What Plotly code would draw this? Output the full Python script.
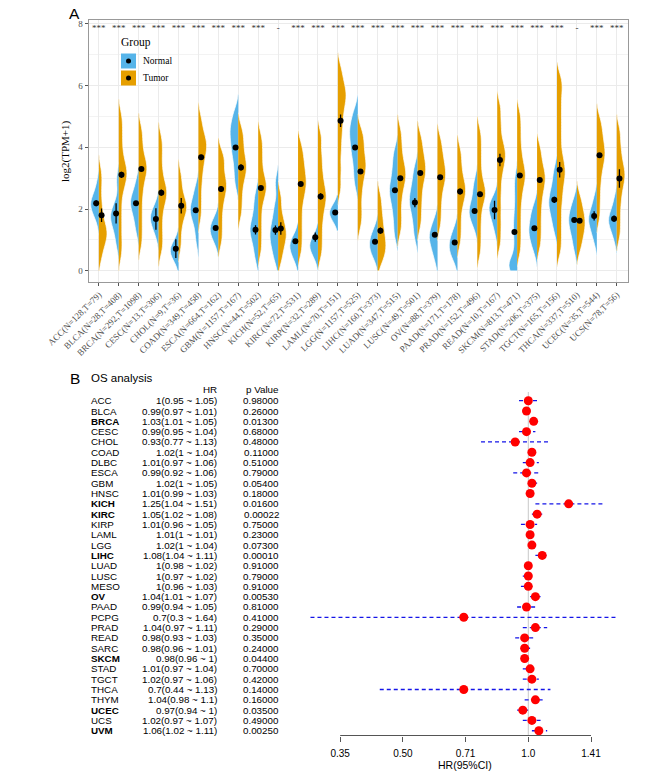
import plotly.graph_objects as go

W, H = 669, 773

# ---------------- Panel A data ----------------
cancers_A = ["ACC", "BLCA", "BRCA", "CESC", "CHOL", "COAD", "ESCA", "GBM", "HNSC",
             "KICH", "KIRC", "KIRP", "LAML", "LGG", "LIHC", "LUAD", "LUSC", "OV",
             "PAAD", "PRAD", "READ", "SKCM", "STAD", "TGCT", "THCA", "UCEC", "UCS"]
n_normal = [128, 28, 292, 13, 9, 349, 664, 1157, 44, 52, 72, 32, 70, 1157, 160, 347,
            49, 88, 171, 152, 10, 813, 206, 165, 337, 35, 78]
n_tumor = [79, 408, 1098, 306, 36, 458, 162, 167, 502, 65, 531, 289, 151, 525, 373,
           515, 501, 379, 178, 496, 167, 471, 375, 156, 510, 544, 56]
signif = ["***"] * 9 + ["-"] + ["***"] * 14 + ["-"] + ["***"] * 2

normal_vals = [
    [1.7, 1.95, 2.05, 2.15, 2.2, 2.3, 2.45, 2.8],                    # ACC
    [0.9, 1.3, 1.55, 1.7, 1.8, 1.95, 2.2, 2.95],                     # BLCA
    [1.35, 1.75, 2.0, 2.2, 2.3, 2.45, 2.85],                         # BRCA
    [1.2, 1.5, 1.65, 1.75, 1.85, 2.1],                               # CESC
    [0.45, 0.6, 0.7, 0.85],                                          # CHOL
    [1.0, 1.45, 1.75, 1.9, 2.0, 2.15, 2.4, 2.7],                     # COAD
    [1.0, 1.2, 1.35, 1.45, 1.65],                                    # ESCA
    [2.85, 3.3, 3.7, 3.95, 4.2, 4.45, 4.6, 4.85, 5.15],              # GBM
    [0.45, 0.85, 1.15, 1.3, 1.45, 1.7, 2.05, 2.45],                  # HNSC
    [0.4, 0.75, 1.0, 1.2, 1.4, 1.7, 2.1, 2.85],                      # KICH
    [0.45, 0.7, 0.9, 1.0],                                           # KIRC
    [0.55, 0.75, 0.9, 1.0],                                          # KIRP
    [1.85, 1.9],                                                     # LAML
    [2.85, 3.3, 3.7, 3.95, 4.2, 4.45, 4.6, 4.85, 5.15],              # LGG
    [0.5, 0.65, 0.8, 0.95, 1.1, 1.3],                                # LIHC
    [1.2, 1.7, 2.1, 2.4, 2.6, 2.8, 3.1, 3.45, 3.85],                 # LUAD
    [1.15, 1.6, 1.95, 2.2, 2.35, 2.6, 2.9, 3.3],                     # LUSC
    [0.45, 0.8, 1.0, 1.15, 1.3, 1.6],                                # OV
    [0.45, 0.65, 0.85, 1.0, 1.3],                                    # PAAD
    [1.45, 1.7, 1.85, 1.95, 2.05, 2.3, 2.6, 2.9],                    # PRAD
    [1.35, 1.7, 1.9, 2.05, 2.15, 2.3],                               # READ
    [0.05, 0.1, 0.15, 0.2, 0.3, 0.7, 1.1, 1.4, 1.7, 2.1, 2.6, 3.0],  # SKCM
    [0.7, 1.0, 1.2, 1.35, 1.55, 1.8, 2.05],                          # STAD
    [1.4, 1.8, 2.05, 2.25, 2.45, 2.75, 3.2],                         # TGCT
    [0.75, 1.15, 1.4, 1.6, 1.75, 1.95, 2.25],                        # THCA
    [1.05, 1.4, 1.6, 1.75, 1.9, 2.3],                                # UCEC
    [1.1, 1.45, 1.6, 1.7, 1.85, 2.25],                               # UCS
]
tumor_vals = [
    [0.45, 0.8, 1.0, 1.15, 1.25, 1.4, 1.6, 1.9, 2.3, 2.8, 3.2],                 # ACC
    [0.55, 1.0, 1.5, 2.0, 2.5, 2.8, 3.0, 3.15, 3.3, 3.5, 3.8, 4.2, 4.6, 5.0],   # BLCA
    [0.9, 1.4, 1.9, 2.4, 2.8, 3.1, 3.3, 3.45, 3.7, 4.1, 4.55],                  # BRCA
    [0.7, 1.1, 1.55, 2.0, 2.3, 2.5, 2.65, 2.9, 3.3, 3.8, 4.25],                 # CESC
    [0.85, 1.4, 1.8, 2.0, 2.1, 2.25, 2.6, 3.05],                                # CHOL
    [1.8, 2.3, 2.8, 3.2, 3.5, 3.75, 3.95, 4.1, 4.25, 4.5, 4.9],                 # COAD
    [1.0, 1.5, 2.0, 2.4, 2.65, 2.85, 3.1, 3.5, 3.75],                           # ESCA
    [1.9, 2.4, 2.85, 3.15, 3.35, 3.55, 3.85, 4.2, 4.55],                        # GBM
    [0.7, 1.2, 1.7, 2.2, 2.5, 2.7, 2.85, 3.1, 3.5, 3.9, 4.3],                   # HNSC
    [0.4, 0.8, 1.05, 1.25, 1.45, 1.8, 2.35],                                    # KICH
    [0.7, 1.2, 1.7, 2.2, 2.55, 2.8, 3.0, 3.3, 3.6, 4.0],                        # KIRC
    [0.6, 1.1, 1.6, 2.0, 2.3, 2.5, 2.8, 3.2, 3.7, 4.3],                         # KIRP
    [2.7, 3.3, 3.9, 4.4, 4.8, 5.15, 5.45, 5.65, 5.85, 6.1, 6.5],                # LAML
    [1.55, 2.0, 2.5, 2.9, 3.2, 3.4, 3.6, 3.9, 4.2, 4.5],                        # LGG
    [0.35, 0.6, 0.8, 1.0, 1.25, 1.55, 1.9, 2.35],                               # LIHC
    [1.35, 1.8, 2.3, 2.7, 2.95, 3.15, 3.35, 3.65, 4.05, 4.5],                   # LUAD
    [1.55, 2.05, 2.5, 2.9, 3.15, 3.35, 3.6, 3.9, 4.3],                          # LUSC
    [1.55, 2.05, 2.5, 2.85, 3.05, 3.25, 3.5, 3.8, 4.2],                         # OV
    [1.0, 1.5, 2.0, 2.35, 2.55, 2.75, 3.0, 3.4, 3.85],                          # PAAD
    [0.65, 1.15, 1.65, 2.1, 2.4, 2.55, 2.75, 3.1, 3.55, 4.0, 4.45],             # PRAD
    [0.95, 1.5, 2.05, 2.6, 3.1, 3.45, 3.7, 3.9, 4.2, 4.7, 5.25],                # READ
    [0.7, 1.2, 1.7, 2.2, 2.6, 2.9, 3.1, 3.3, 3.6, 4.0, 4.5, 5.0],               # SKCM
    [0.9, 1.4, 1.9, 2.35, 2.7, 2.95, 3.15, 3.45, 3.9],                          # STAD
    [0.7, 1.2, 1.7, 2.2, 2.6, 2.95, 3.2, 3.45, 3.8, 4.3, 4.8, 5.3, 5.8, 6.2],   # TGCT
    [0.75, 1.1, 1.35, 1.55, 1.75, 2.0, 2.35],                                   # THCA
    [1.8, 2.35, 2.85, 3.25, 3.55, 3.75, 3.95, 4.2, 4.5, 4.85],                  # UCEC
    [1.2, 1.7, 2.2, 2.6, 2.9, 3.1, 3.3, 3.6, 4.0, 4.5],                         # UCS
]

normal_center = [2.19, 1.86, 2.19, 1.68, 0.72, 1.96, 1.39, 3.99, 1.33, 1.32, 0.96, 1.09,
                 1.89, 3.99, 0.94, 2.61, 2.21, 1.17, 0.92, 1.94, 1.97, 1.26, 1.38, 2.30,
                 1.65, 1.78, 1.69]
normal_err = [0.1, 0.33, 0.05, 0.35, 0.3, 0.05, 0.05, 0.05, 0.15, 0.15, 0.05, 0.15,
              0.05, 0.05, 0.05, 0.05, 0.15, 0.05, 0.05, 0.05, 0.3, 0.05, 0.05, 0.1,
              0.05, 0.15, 0.1]
tumor_center = [1.80, 3.11, 3.30, 2.53, 2.11, 3.68, 2.65, 3.35, 2.68, 1.37, 2.81, 2.41,
                4.86, 3.22, 1.30, 3.00, 3.17, 3.03, 2.57, 2.48, 3.59, 3.09, 2.94, 3.27,
                1.62, 3.74, 2.99]
tumor_err = [0.22, 0.1, 0.07, 0.1, 0.25, 0.08, 0.1, 0.1, 0.07, 0.2, 0.05, 0.1, 0.2,
             0.05, 0.1, 0.05, 0.05, 0.05, 0.1, 0.08, 0.2, 0.07, 0.05, 0.25, 0.05, 0.05,
             0.3]

# ---------------- Panel B data ----------------
cancers_B = ["ACC", "BLCA", "BRCA", "CESC", "CHOL", "COAD", "DLBC", "ESCA", "GBM", "HNSC",
             "KICH", "KIRC", "KIRP", "LAML", "LGG", "LIHC", "LUAD", "LUSC", "MESO", "OV",
             "PAAD", "PCPG", "PRAD", "READ", "SARC", "SKCM", "STAD", "TGCT", "THCA",
             "THYM", "UCEC", "UCS", "UVM"]
hr = [1, 0.99, 1.03, 0.99, 0.93, 1.02, 1.01, 0.99, 1.02, 1.01, 1.25, 1.05, 1.01, 1.01,
      1.02, 1.08, 1, 1, 1, 1.04, 0.99, 0.7, 1.04, 0.98, 0.98, 0.98, 1.01, 1.02, 0.7,
      1.04, 0.97, 1.02, 1.06]
hr_low = [0.95, 0.97, 1.01, 0.95, 0.77, 1, 0.97, 0.92, 1, 0.99, 1.04, 1.02, 0.96, 1, 1,
          1.04, 0.98, 0.97, 0.96, 1.01, 0.94, 0.3, 0.97, 0.93, 0.96, 0.96, 0.97, 0.97,
          0.44, 0.98, 0.94, 0.97, 1.02]
hr_high = [1.05, 1.01, 1.05, 1.04, 1.13, 1.04, 1.06, 1.06, 1.05, 1.03, 1.51, 1.08, 1.05,
           1.01, 1.04, 1.11, 1.02, 1.02, 1.03, 1.07, 1.05, 1.64, 1.11, 1.03, 1.01, 1,
           1.04, 1.06, 1.13, 1.1, 1, 1.07, 1.11]
pvals = [0.98, 0.26, 0.013, 0.68, 0.48, 0.11, 0.51, 0.79, 0.054, 0.18, 0.016, 0.00022,
         0.75, 0.23, 0.073, 0.0001, 0.91, 0.79, 0.91, 0.0053, 0.81, 0.41, 0.29, 0.35,
         0.24, 0.044, 0.70, 0.42, 0.14, 0.16, 0.035, 0.49, 0.0025]
hr_ticks = [2 ** -1.5, 0.5, 2 ** -0.5, 1.0, 2 ** 0.5]
hr_ticktext = ["0.35", "0.50", "0.71", "1.0", "1.41"]

# ---------------- helpers ----------------
def xp(px):
    return px / W


def yp(py):
    return 1 - py / H


BLUE = "#56B4E9"
ORANGE = "#E69F00"
SERIF = "Liberation Serif, Times New Roman, serif"
SANS = "Liberation Sans, Arial, sans-serif"
BW = 0.28

fig = go.Figure()

idx = list(range(len(cancers_A)))
for i in idx:
    for vals, side, col in ((normal_vals[i], "negative", BLUE),
                            (tumor_vals[i], "positive", ORANGE)):
        lo = max(0.0, min(vals) - 2 * BW)
        hi = max(vals) + 2 * BW
        fig.add_trace(go.Violin(
            x=[i] * len(vals), y=vals, side=side, width=0.82,
            fillcolor=col, line=dict(color="white", width=0.7), opacity=1,
            points=False, bandwidth=BW, spanmode="manual", span=[lo, hi],
            scalemode="width", showlegend=False, hoverinfo="skip",
            box=dict(visible=False), meanline=dict(visible=False),
            xaxis="x", yaxis="y"))

fig.add_trace(go.Scatter(
    x=[i - 0.135 for i in idx], y=normal_center, mode="markers",
    marker=dict(color="black", size=6),
    error_y=dict(type="data", array=normal_err, width=0, thickness=1.3, color="black"),
    showlegend=False, hoverinfo="skip", xaxis="x", yaxis="y"))
fig.add_trace(go.Scatter(
    x=[i + 0.135 for i in idx], y=tumor_center, mode="markers",
    marker=dict(color="black", size=6),
    error_y=dict(type="data", array=tumor_err, width=0, thickness=1.3, color="black"),
    showlegend=False, hoverinfo="skip", xaxis="x", yaxis="y"))
fig.add_trace(go.Scatter(
    x=idx, y=[7.85] * len(idx), mode="text", text=signif,
    textfont=dict(family=SERIF, size=9, color="#333333"),
    showlegend=False, hoverinfo="skip", xaxis="x", yaxis="y"))

ticklabels = [f"{c}(N={n},T={t})" for c, n, t in zip(cancers_A, n_normal, n_tumor)]

# ---------------- Panel B traces ----------------
rows = list(range(len(cancers_B)))
ci_x, ci_y = [], []
for i in rows:
    ci_x += [hr_low[i], hr_high[i], None]
    ci_y += [i, i, None]
fig.add_trace(go.Scatter(
    x=ci_x, y=ci_y, mode="lines", line=dict(color="#1515E8", width=1.3, dash="4px,3px"),
    showlegend=False, hoverinfo="skip", xaxis="x2", yaxis="y2"))
fig.add_trace(go.Scatter(
    x=hr, y=rows, mode="markers", marker=dict(color="#FF0000", size=9),
    showlegend=False, hoverinfo="skip", xaxis="x2", yaxis="y2"))


def fmt(v):
    return f"{v:g}"


TF = 9.8
annotations = []
for i in rows:
    name = f"<b>{cancers_B[i]}</b>" if pvals[i] < 0.05 else cancers_B[i]
    annotations.append(dict(x=xp(89), y=i, xref="paper", yref="y2", text=name,
                            showarrow=False, xanchor="left", yanchor="middle",
                            font=dict(family=SANS, size=TF, color="black")))
    annotations.append(dict(x=xp(218.5), y=i, xref="paper", yref="y2",
                            text=f"{fmt(hr[i])}({fmt(hr_low[i])} ~ {fmt(hr_high[i])})",
                            showarrow=False, xanchor="right", yanchor="middle",
                            font=dict(family=SANS, size=TF, color="black")))
    annotations.append(dict(x=xp(280.5), y=i, xref="paper", yref="y2",
                            text=f"{pvals[i]:.5f}",
                            showarrow=False, xanchor="right", yanchor="middle",
                            font=dict(family=SANS, size=TF, color="black")))

annotations += [
    dict(x=xp(218.5), y=yp(389.8), xref="paper", yref="paper", text="HR", showarrow=False,
         xanchor="right", yanchor="middle", font=dict(family=SANS, size=TF, color="black")),
    dict(x=xp(280.5), y=yp(389.8), xref="paper", yref="paper", text="p Value",
         showarrow=False, xanchor="right", yanchor="middle",
         font=dict(family=SANS, size=TF, color="black")),
    dict(x=xp(89), y=yp(378), xref="paper", yref="paper", text="OS analysis",
         showarrow=False, xanchor="left", yanchor="middle",
         font=dict(family=SANS, size=11.5, color="black")),
    dict(x=xp(465), y=yp(765), xref="paper", yref="paper", text="HR(95%CI)",
         showarrow=False, xanchor="center", yanchor="middle",
         font=dict(family=SANS, size=10.5, color="black")),
    dict(x=xp(74), y=yp(13), xref="paper", yref="paper", text="A", showarrow=False,
         xanchor="center", yanchor="middle", font=dict(family=SANS, size=15.5, color="black")),
    dict(x=xp(75), y=yp(378), xref="paper", yref="paper", text="B", showarrow=False,
         xanchor="center", yanchor="middle", font=dict(family=SANS, size=15.5, color="black")),
    dict(x=xp(66), y=yp(151), xref="paper", yref="paper", text="log2(TPM+1)",
         showarrow=False, textangle=-90, xanchor="center", yanchor="middle",
         font=dict(family=SERIF, size=11, color="black")),
    # legend
    dict(x=xp(119), y=yp(42), xref="paper", yref="paper", text="Group", showarrow=False,
         xanchor="left", yanchor="middle", font=dict(family=SERIF, size=11.5, color="black")),
    dict(x=xp(141), y=yp(61), xref="paper", yref="paper", text="Normal", showarrow=False,
         xanchor="left", yanchor="middle", font=dict(family=SERIF, size=9.5, color="black")),
    dict(x=xp(141), y=yp(78), xref="paper", yref="paper", text="Tumor", showarrow=False,
         xanchor="left", yanchor="middle", font=dict(family=SERIF, size=9.5, color="black")),
]

shapes = [
    # legend keys
    dict(type="rect", xref="paper", yref="paper", x0=xp(121), x1=xp(136), y0=yp(68.5),
         y1=yp(53.5), fillcolor=BLUE, line=dict(width=0)),
    dict(type="rect", xref="paper", yref="paper", x0=xp(121), x1=xp(136), y0=yp(85.5),
         y1=yp(70.5), fillcolor=ORANGE, line=dict(width=0)),
    dict(type="circle", xref="paper", yref="paper", x0=xp(126), x1=xp(131), y0=yp(63.5),
         y1=yp(58.5), fillcolor="black", line=dict(width=0)),
    dict(type="circle", xref="paper", yref="paper", x0=xp(126), x1=xp(131), y0=yp(80.5),
         y1=yp(75.5), fillcolor="black", line=dict(width=0)),
    # forest reference line and axis line
    dict(type="line", xref="x2", yref="paper", x0=1, x1=1, y0=yp(735.5), y1=yp(392),
         line=dict(color="#C8C8C8", width=1), layer="below"),
    dict(type="line", xref="x2", yref="paper", x0=hr_ticks[0], x1=hr_ticks[-1],
         y0=yp(735.5), y1=yp(735.5), line=dict(color="#555555", width=1)),
]

fig.update_layout(
    width=W, height=H, autosize=False,
    margin=dict(l=0, r=0, t=0, b=0, pad=0, autoexpand=False),
    paper_bgcolor="white", plot_bgcolor="white",
    violinmode="overlay", showlegend=False,
    xaxis=dict(domain=[xp(88.5), xp(627.5)], range=[-0.52, 26.54], tickmode="array",
               tickvals=idx, ticktext=ticklabels, tickangle=-45, automargin=False,
               tickfont=dict(family=SERIF, size=9, color="#4D4D4D"),
               ticks="outside", ticklen=3, tickcolor="#555555",
               showgrid=True, gridcolor="#EBEBEB", gridwidth=1, zeroline=False,
               showline=True, mirror=True, linecolor="#999999", linewidth=1,
               anchor="y"),
    yaxis=dict(domain=[yp(282), yp(20)], range=[-0.36, 8.12], tickmode="array",
               tickvals=[0, 2, 4, 6, 8], ticktext=["0", "2", "4", "6", "8"],
               automargin=False,
               tickfont=dict(family=SERIF, size=9, color="#4D4D4D"),
               ticks="outside", ticklen=3, tickcolor="#555555",
               showgrid=True, gridcolor="#EBEBEB", gridwidth=1, zeroline=False,
               minor=dict(tickvals=[1, 3, 5, 7], showgrid=True, gridcolor="#F3F3F3",
                          gridwidth=1, ticks=""),
               showline=True, mirror=True, linecolor="#999999", linewidth=1,
               anchor="x"),
    xaxis2=dict(type="log", domain=[xp(300), xp(630)], range=[-0.548, 0.2441],
                tickmode="array", tickvals=hr_ticks, ticktext=hr_ticktext,
                automargin=False, ticklabelstandoff=3,
                tickfont=dict(family=SANS, size=10, color="black"),
                ticks="outside", ticklen=5, tickcolor="#555555",
                showgrid=False, zeroline=False, showline=False, anchor="y2"),
    yaxis2=dict(domain=[yp(735.5), yp(390)], range=[32.46, -1.037], visible=False,
                automargin=False, showgrid=False, zeroline=False, anchor="x2"),
    annotations=annotations, shapes=shapes,
)

fig.write_html(
    "out.html",
    config={"displayModeBar": False},
    post_script="document.body.style.margin='0';document.body.style.overflow='hidden';",
)
